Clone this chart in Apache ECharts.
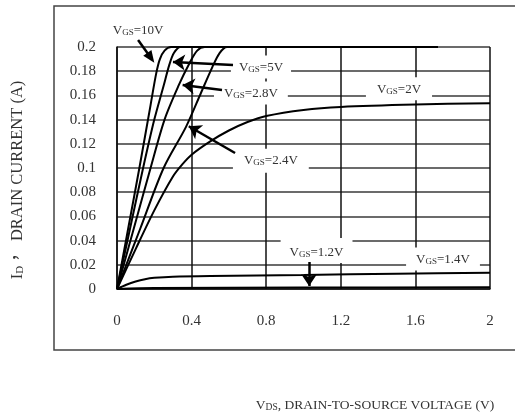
<!DOCTYPE html>
<html><head><meta charset="utf-8">
<script src="https://cdn.jsdelivr.net/npm/echarts@6/dist/echarts.min.js"></script>
<style>html,body{margin:0;padding:0;background:#fff}#c{width:515px;height:419px}</style>
</head><body><div id="c"></div>
<script>
// Tick values
const xTicks = [0, 0.4, 0.8, 1.2, 1.6, 2];
const yTicks = [0, 0.02, 0.04, 0.06, 0.08, 0.1, 0.12, 0.14, 0.16, 0.18, 0.2];

// Curves [VDS (V), ID (A)]
const vgs10 = [[0,0],[0.06,0.05],[0.12,0.1],[0.18,0.152],[0.21,0.178],[0.23,0.19],[0.255,0.197],[0.29,0.2],[1.72,0.2]];
const vgs5  = [[0,0],[0.07,0.05],[0.14,0.1],[0.2,0.14],[0.25,0.168],[0.28,0.185],[0.305,0.195],[0.34,0.2],[1.72,0.2]];
const vgs28 = [[0,0],[0.09,0.05],[0.18,0.1],[0.255,0.14],[0.33,0.168],[0.39,0.187],[0.43,0.197],[0.47,0.2],[1.72,0.2]];
const vgs24 = [[0,0],[0.125,0.05],[0.25,0.1],[0.37,0.134],[0.45,0.162],[0.51,0.183],[0.55,0.195],[0.59,0.2],[1.72,0.2]];
const vgs2  = [[0,0],[0.1,0.033],[0.2,0.065],[0.3,0.093],[0.35,0.103],[0.4,0.111],[0.5,0.122],[0.6,0.131],[0.7,0.138],[0.8,0.143],[1.0,0.148],[1.2,0.1505],[1.6,0.1525],[2.0,0.1535]];
const vgs14 = [[0,0],[0.05,0.0035],[0.1,0.0062],[0.15,0.0081],[0.2,0.0092],[0.3,0.0102],[0.5,0.0108],[1.0,0.0116],[1.5,0.0126],[2.0,0.0135]];
const vgs12 = [[0,0],[0.2,0.0008],[1.0,0.0012],[2.0,0.0015]];

// Annotation texts (after "V" + subscript "GS")
const annoNames = ['=10V', '=5V', '=2.8V', '=2V', '=2.4V', '=1.2V', '=1.4V'];

const chart = echarts.init(document.getElementById('c'), null, {renderer: 'canvas'});
const serif = '"Liberation Serif","Times New Roman",serif';

function curve(d) {
  return {type: 'line', data: d, showSymbol: false, symbol: 'none', smooth: 0.3,
    clip: false, lineStyle: {color: '#000', width: 2}, silent: true, z: 3};
}

const rich = {
  v: {fontFamily: serif, fontSize: 13, color: '#333', verticalAlign: 'bottom', lineHeight: 15},
  s: {fontFamily: serif, fontSize: 9, color: '#333', verticalAlign: 'bottom', lineHeight: 13},
  n: {fontFamily: serif, fontSize: 13, color: '#333', verticalAlign: 'bottom', lineHeight: 15}
};
function lbl(coord, name, pad) {
  return {coord: coord, value: 0, symbol: 'rect', symbolSize: 0,
    label: {show: true, position: 'inside', formatter: '{v|V}{s|GS}{n|' + name + '}', rich: rich,
      backgroundColor: '#fff', padding: pad}};
}

const option = {
  animation: false,
  backgroundColor: '#fff',
  grid: {left: 117, right: 25, top: 47, bottom: 130},
  xAxis: {
    type: 'value', min: xTicks[0], max: xTicks[xTicks.length - 1], interval: xTicks[1] - xTicks[0],
    axisLine: {show: true, onZero: false, lineStyle: {color: '#111', width: 1.5}},
    axisTick: {show: false},
    axisLabel: {fontFamily: serif, fontSize: 15, color: '#333', margin: 25},
    splitLine: {show: true, lineStyle: {color: '#111', width: 1.5}}
  },
  yAxis: {
    type: 'value', min: yTicks[0], max: yTicks[yTicks.length - 1], interval: yTicks[1] - yTicks[0],
    axisLine: {show: true, onZero: false, lineStyle: {color: '#111', width: 1.5}},
    axisTick: {show: false},
    axisLabel: {fontFamily: serif, fontSize: 15, color: '#333', margin: 21},
    splitLine: {show: true, lineStyle: {color: '#3a3a3a', width: 1.5}}
  },
  series: [
    curve(vgs10), curve(vgs5), curve(vgs28), curve(vgs24), curve(vgs2), curve(vgs14), curve(vgs12),
    {
      type: 'line', data: [], clip: false, silent: true, z: 10,
      markPoint: {
        silent: true, z: 10,
        data: [
          lbl([0.772, 0.1835], annoNames[1], [4, 8]),
          lbl([0.718, 0.162], annoNames[2], [4, 10]),
          lbl([1.512, 0.1655], annoNames[3], [4, 11]),
          lbl([0.825, 0.106], annoNames[4], [3, 11, 6, 11]),
          lbl([1.07, 0.0318], annoNames[5], [6, 9, 4, 9]),
          lbl([1.748, 0.0248], annoNames[6], [4, 10])
        ]
      },
      markLine: {
        silent: true, z: 11,
        symbol: ['none', 'arrow'], symbolSize: 12,
        label: {show: false},
        emphasis: {disabled: true},
        lineStyle: {color: '#000', width: 2.5, type: 'solid'},
        data: [
          [{coord: [0.622, 0.1851]}, {coord: [0.3, 0.1876]}],
          [{coord: [0.563, 0.1645]}, {coord: [0.352, 0.1686]}],
          [{coord: [0.633, 0.1124]}, {coord: [0.385, 0.1345]}],
          [{coord: [1.03, 0.0223]}, {coord: [1.03, 0.0025]}]
        ]
      }
    }
  ],
  graphic: [
    {type: 'rect', shape: {x: 54, y: 6, width: 480, height: 344}, style: {fill: 'none', stroke: '#444', lineWidth: 1.5}, silent: true},
    {type: 'text', x: 17, y: 180, rotation: Math.PI / 2, silent: true,
      style: {text: '{a|I}{b|D}{a|，  DRAIN CURRENT (A)}', align: 'center', verticalAlign: 'middle',
        rich: {a: {fontFamily: serif + ',"Noto Sans CJK TC"', fontSize: 16.5, fill: '#333', verticalAlign: 'bottom', lineHeight: 18},
               b: {fontFamily: serif, fontSize: 11, fill: '#333', verticalAlign: 'bottom', lineHeight: 16}}}},
    {type: 'text', x: 375, y: 404, silent: true,
      style: {text: '{a|V}{b|DS}{a|, DRAIN-TO-SOURCE VOLTAGE (V)}', align: 'center', verticalAlign: 'middle',
        rich: {a: {fontFamily: serif, fontSize: 13.5, fill: '#333', verticalAlign: 'bottom', lineHeight: 16},
               b: {fontFamily: serif, fontSize: 9.5, fill: '#333', verticalAlign: 'bottom', lineHeight: 14}}}}
  ]
};
chart.setOption(option);

// VGS=10V label and arrow sit above the plot area; place them from data coordinates
const p = (c) => chart.convertToPixel({gridIndex: 0}, c);
const tPos = p([0.113, 0.214]);
const aFrom = p([0.113, 0.2058]);
const aTo = p([0.2, 0.187]);
const dx = aTo[0] - aFrom[0], dy = aTo[1] - aFrom[1];
const len = Math.sqrt(dx * dx + dy * dy), ux = dx / len, uy = dy / len;
const hl = 12, hw = 5;
const bx = aTo[0] - ux * hl, by = aTo[1] - uy * hl;
chart.setOption({graphic: [
  {type: 'rect', shape: {x: 54, y: 6, width: 480, height: 344}, style: {fill: 'none', stroke: '#444', lineWidth: 1.5}, silent: true},
  option.graphic[1], option.graphic[2],
  {type: 'text', x: tPos[0], y: tPos[1], silent: true, z: 20,
    style: {text: '{v|V}{s|GS}{n|' + annoNames[0] + '}', align: 'center', verticalAlign: 'middle',
      rich: {v: {fontFamily: serif, fontSize: 13, fill: '#333', verticalAlign: 'bottom', lineHeight: 15},
             s: {fontFamily: serif, fontSize: 9, fill: '#333', verticalAlign: 'bottom', lineHeight: 13},
             n: {fontFamily: serif, fontSize: 13, fill: '#333', verticalAlign: 'bottom', lineHeight: 15}}}},
  {type: 'line', silent: true, z: 20, shape: {x1: aFrom[0], y1: aFrom[1], x2: bx + ux * 2, y2: by + uy * 2},
    style: {stroke: '#000', lineWidth: 2.5}},
  {type: 'polygon', silent: true, z: 20,
    shape: {points: [[aTo[0], aTo[1]], [bx - uy * hw, by + ux * hw], [bx + uy * hw, by - ux * hw]]},
    style: {fill: '#000'}}
]});
</script></body></html>
